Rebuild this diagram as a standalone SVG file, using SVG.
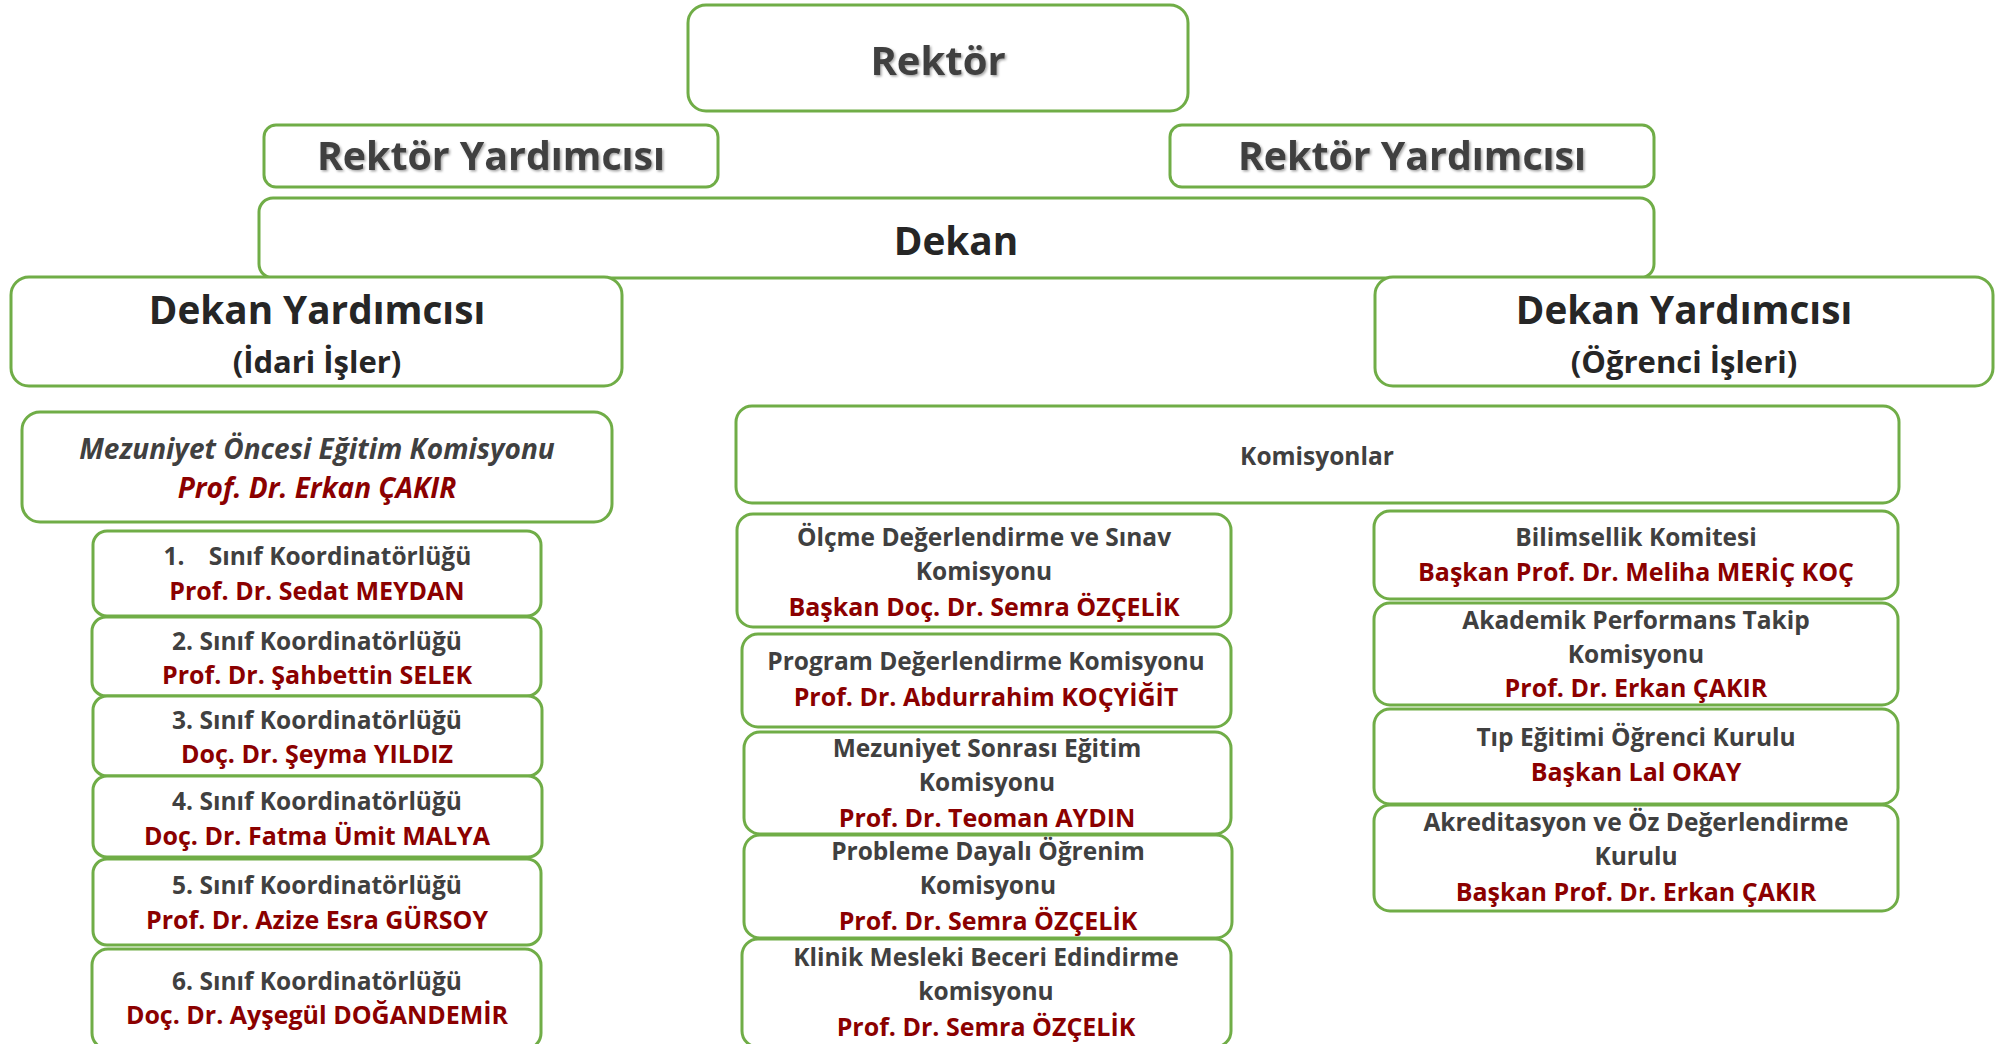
<svg xmlns="http://www.w3.org/2000/svg" width="1995" height="1044" viewBox="0 0 1995 1044">
<defs>
<filter id="sh" x="-10%" y="-30%" width="120%" height="160%">
<feDropShadow dx="1.5" dy="1.5" stdDeviation="1.2" flood-color="#000" flood-opacity="0.35"/>
</filter>
<style>
.b{fill:#fff;stroke:#70AD47;stroke-width:3}
text{font-family:"Open Sans","Liberation Sans",sans-serif;text-anchor:middle}
.g{fill:#404040;font-weight:700;font-size:24.5px}
.r{fill:#8B0000;font-weight:700;font-size:25px}
.top{fill:#404040;font-weight:700}
.dk{fill:#262626;font-weight:700}
.it{font-style:italic;font-weight:700;font-size:28px}
</style>
</defs>
<rect width="1995" height="1044" fill="#fff"/>
<g id="connectors"></g>

<g id="rektor">
<rect class="b" x="688" y="5" width="500" height="106" rx="18"/>
<text class="top" x="938" y="75" font-size="40" font-weight="600" filter="url(#sh)">Rektör</text>
</g>
<g id="rektor-yard-1">
<rect class="b" x="264" y="125" width="454" height="62" rx="12"/>
<text class="top" x="491" y="170" font-size="39.3" filter="url(#sh)">Rektör Yardımcısı</text>
</g>
<g id="rektor-yard-2">
<rect class="b" x="1170" y="125" width="484" height="62" rx="12"/>
<text class="top" x="1412" y="170" font-size="39.3" filter="url(#sh)">Rektör Yardımcısı</text>
</g>
<g id="dekan">
<rect class="b" x="259" y="198" width="1395" height="80" rx="14"/>
<text class="dk" x="956" y="255" font-size="38.8">Dekan</text>
</g>
<g id="dekan-yard-idari">
<rect class="b" x="11" y="277" width="611" height="109" rx="18"/>
<text class="dk" x="317" y="324" font-size="38.7">Dekan Yardımcısı</text>
<text class="dk" x="317" y="373" font-size="31">(İdari İşler)</text>
</g>
<g id="dekan-yard-ogrenci">
<rect class="b" x="1375" y="277" width="618" height="109" rx="18"/>
<text class="dk" x="1684" y="324" font-size="38.7">Dekan Yardımcısı</text>
<text class="dk" x="1684" y="373" font-size="31">(Öğrenci İşleri)</text>
</g>

<g id="mezuniyet-oncesi">
<rect class="b" x="22" y="412" width="590" height="110" rx="18"/>
<text class="it" x="317" y="459" fill="#404040">Mezuniyet Öncesi Eğitim Komisyonu</text>
<text class="it" x="317" y="498" fill="#8B0000">Prof. Dr. Erkan ÇAKIR</text>
</g>
<g id="sinif-1">
<rect class="b" x="93" y="531" width="448" height="85" rx="14"/>
<text class="g" y="565"><tspan x="174">1.</tspan><tspan x="340">Sınıf Koordinatörlüğü</tspan></text>
<text class="r" x="317" y="600">Prof. Dr. Sedat MEYDAN</text>
</g>
<g id="sinif-2">
<rect class="b" x="92" y="617" width="449" height="79" rx="14"/>
<text class="g" x="317" y="650">2. Sınıf Koordinatörlüğü</text>
<text class="r" x="317" y="684">Prof. Dr. Şahbettin SELEK</text>
</g>
<g id="sinif-3">
<rect class="b" x="93" y="696" width="449" height="80" rx="14"/>
<text class="g" x="317" y="729">3. Sınıf Koordinatörlüğü</text>
<text class="r" x="317" y="763">Doç. Dr. Şeyma YILDIZ</text>
</g>
<g id="sinif-4">
<rect class="b" x="93" y="776" width="449" height="81" rx="14"/>
<text class="g" x="317" y="810">4. Sınıf Koordinatörlüğü</text>
<text class="r" x="317" y="845">Doç. Dr. Fatma Ümit MALYA</text>
</g>
<g id="sinif-5">
<rect class="b" x="93" y="859" width="448" height="86" rx="14"/>
<text class="g" x="317" y="894">5. Sınıf Koordinatörlüğü</text>
<text class="r" x="317" y="929">Prof. Dr. Azize Esra GÜRSOY</text>
</g>
<g id="sinif-6">
<rect class="b" x="92" y="949" width="449" height="100" rx="16"/>
<text class="g" x="317" y="990">6. Sınıf Koordinatörlüğü</text>
<text class="r" x="317" y="1024">Doç. Dr. Ayşegül DOĞANDEMİR</text>
</g>

<g id="komisyonlar">
<rect class="b" x="736" y="406" width="1163" height="97" rx="16"/>
<text class="g" x="1317" y="465" font-size="27.5">Komisyonlar</text>
</g>
<g id="olcme">
<rect class="b" x="737" y="514" width="494" height="113" rx="16"/>
<text class="g" x="984" y="546">Ölçme Değerlendirme ve Sınav</text>
<text class="g" x="984" y="580">Komisyonu</text>
<text class="r" x="984" y="616">Başkan Doç. Dr. Semra ÖZÇELİK</text>
</g>
<g id="program">
<rect class="b" x="742" y="634" width="489" height="93" rx="16"/>
<text class="g" x="986" y="670">Program Değerlendirme Komisyonu</text>
<text class="r" x="986" y="706">Prof. Dr. Abdurrahim KOÇYİĞİT</text>
</g>
<g id="mezuniyet-sonrasi">
<rect class="b" x="744" y="732" width="487" height="102" rx="16"/>
<text class="g" x="987" y="757">Mezuniyet Sonrası Eğitim</text>
<text class="g" x="987" y="791">Komisyonu</text>
<text class="r" x="987" y="827">Prof. Dr. Teoman AYDIN</text>
</g>
<g id="probleme">
<rect class="b" x="744" y="835" width="488" height="103" rx="16"/>
<text class="g" x="988" y="860">Probleme Dayalı Öğrenim</text>
<text class="g" x="988" y="894">Komisyonu</text>
<text class="r" x="988" y="930">Prof. Dr. Semra ÖZÇELİK</text>
</g>
<g id="klinik">
<rect class="b" x="742" y="939" width="489" height="108" rx="16"/>
<text class="g" x="986" y="966">Klinik Mesleki Beceri Edindirme</text>
<text class="g" x="986" y="1000">komisyonu</text>
<text class="r" x="986" y="1036">Prof. Dr. Semra ÖZÇELİK</text>
</g>

<g id="bilimsellik">
<rect class="b" x="1374" y="511" width="524" height="88" rx="16"/>
<text class="g" x="1636" y="546">Bilimsellik Komitesi</text>
<text class="r" x="1636" y="581">Başkan Prof. Dr. Meliha MERİÇ KOÇ</text>
</g>
<g id="akademik">
<rect class="b" x="1374" y="603" width="524" height="102" rx="16"/>
<text class="g" x="1636" y="629">Akademik Performans Takip</text>
<text class="g" x="1636" y="663">Komisyonu</text>
<text class="r" x="1636" y="697">Prof. Dr. Erkan ÇAKIR</text>
</g>
<g id="tip-egitimi">
<rect class="b" x="1374" y="709" width="524" height="95" rx="16"/>
<text class="g" x="1636" y="746">Tıp Eğitimi Öğrenci Kurulu</text>
<text class="r" x="1636" y="781">Başkan Lal OKAY</text>
</g>
<g id="akreditasyon">
<rect class="b" x="1374" y="805" width="524" height="106" rx="16"/>
<text class="g" x="1636" y="831">Akreditasyon ve Öz Değerlendirme</text>
<text class="g" x="1636" y="865">Kurulu</text>
<text class="r" x="1636" y="901">Başkan Prof. Dr. Erkan ÇAKIR</text>
</g>
</svg>
